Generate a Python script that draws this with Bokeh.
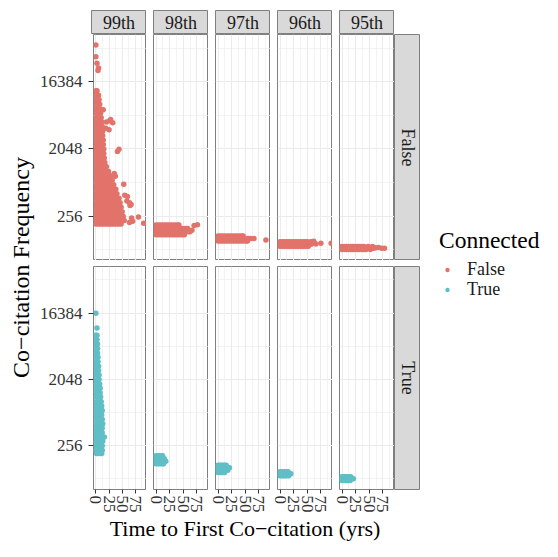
import math
from bokeh.plotting import figure
from bokeh.layouts import row, column
from bokeh.models import (Range1d, FixedTicker, NumeralTickFormatter, Legend,
                          LegendItem, Spacer)
from bokeh.core.properties import value
from bokeh.embed import file_html
from bokeh.resources import INLINE

# ---------------- data ----------------
percentiles = ["99th", "98th", "97th", "96th", "95th"]
connected_levels = ["False", "True"]
y_ticks = [256, 2048, 16384]
y_minor_exp = [6.5, 9.5, 12.5, 15.5]
x_ticks = [0, 25, 50, 75]
x_minor = [12.5, 37.5, 62.5, 87.5]

# rows of points: (co-citation frequency, [years to first co-citation])
f99_rows = [
    (12400, [0, 2]), (10800, [0, 3, 5]), (9410, [0, 3, 6]), (8190, [0, 3, 7]),
    (7130, [0, 4, 8]), (6210, [0, 3, 6, 9]), (5400, [0, 3, 7, 10]),
    (4700, [0, 4, 8, 11]), (4100, [0, 4, 8, 12]), (3570, [0, 4, 8, 13]),
    (3100, [0, 4, 9, 13]), (2700, [0, 4, 9, 14]), (2350, [0, 5, 10, 14]),
    (2050, [0, 5, 10, 15]), (1780, [0, 5, 10, 15]), (1550, [0, 4, 8, 12, 16]),
    (1350, [0, 4, 8, 12, 17]), (1180, [0, 4, 8, 12, 16, 20]),
    (1020, [0, 4, 8, 12, 16, 20, 24]), (891, [0, 4, 8, 12, 16, 20, 24, 28]),
    (776, [0, 4, 8, 12, 16, 20, 24, 28, 31]),
    (676, [0, 4, 8, 12, 16, 20, 24, 28, 32, 34]),
    (588, [0, 4, 8, 12, 16, 20, 24, 28, 32, 36, 38]),
    (512, [0, 4, 8, 12, 16, 20, 24, 28, 32, 36, 40]),
    (446, [0, 4, 8, 12, 16, 20, 24, 28, 32, 36, 40, 44]),
    (388, [0, 4, 8, 12, 16, 20, 24, 28, 32, 36, 40, 44, 46]),
    (338, [0, 4, 8, 12, 16, 20, 24, 28, 32, 36, 40, 44, 48]),
    (294, [0, 4, 8, 12, 16, 20, 24, 28, 32, 36, 40, 44, 48, 50]),
    (256, [0, 4, 8, 12, 16, 20, 24, 28, 32, 36, 40, 44, 48, 52]),
    (223, [0, 4, 8, 12, 16, 20, 24, 28, 32, 36, 40, 44, 48, 52, 54]),
    (201, [0, 4, 8, 12, 16, 20, 24, 28, 32, 36, 40, 44, 48]),
]
f99_extra_x = [0, 0, 2, 5, 4, 14, 20, 26, 32, 19, 25, 28, 41, 44, 35, 37,
               53, 55, 60, 64, 67, 59, 65, 68, 70, 81, 91, 64]
f99_extra_y = [51000, 35600, 29000, 25000, 23200, 6900, 4700, 4900, 4600, 3900,
               3700, 5100, 1900, 2030, 955, 880, 685, 490, 470, 388, 367, 410,
               357, 241, 218, 250, 205, 210]

f98_rows = [
    (194, [0, 4, 8, 12, 16, 20, 24, 28, 32, 36, 40, 42]),
    (175, [0, 4, 8, 12, 16, 20, 24, 28, 32, 36, 40, 44, 48, 52, 56, 58]),
    (158, [0, 4, 8, 12, 16, 20, 24, 28, 32, 36, 40, 44, 48, 52, 56, 60, 62]),
    (144, [0, 4, 8, 12, 16, 20, 24, 28, 32, 36, 40, 44, 48, 52]),
]
f98_extra_x = [70, 76, 66]
f98_extra_y = [192, 196, 165]

f97_rows = [
    (139, [0, 4, 8, 12, 16, 20, 24, 28, 32, 36, 40, 44, 46]),
    (128, [0, 4, 8, 12, 16, 20, 24, 28, 32, 36, 40, 44, 48, 52, 56, 60]),
    (119, [0, 4, 8, 12, 16, 20, 24, 28, 32, 36, 40, 44, 48, 52, 54]),
]
f97_extra_x = [66, 88]
f97_extra_y = [128, 122]

f96_rows = [
    (116, [0, 4, 8, 12, 16, 20, 24, 28, 32, 36, 40, 44, 48, 50]),
    (108, [0, 4, 8, 12, 16, 20, 24, 28, 32, 36, 40, 44, 48, 52, 56, 58]),
    (101, [0, 4, 8, 12, 16, 20, 24, 28, 32, 36, 40, 44, 48, 52]),
]
f96_extra_x = [56, 60, 62, 66, 75, 94]
f96_extra_y = [116, 116, 118, 108, 111, 111]

f95_rows = [
    (100, [0, 4, 8, 12, 16, 20, 24, 28, 32, 36, 40]),
    (95, [0, 4, 8, 12, 16, 20, 24, 28, 32, 36, 40, 44, 46]),
    (91, [0, 4, 8, 12, 16, 20, 24, 28, 32, 36, 40, 44]),
]
f95_extra_x = [48, 56, 54, 58, 62, 67, 73, 78, 52]
f95_extra_y = [100, 100, 95, 95, 96, 97, 95, 95, 91]

t99_rows = [
    (8192, [0, 2]), (7130, [0, 2]), (6210, [0, 3]), (5400, [0, 3]),
    (4700, [0, 3]), (4100, [0, 4]), (3570, [0, 4]), (3100, [0, 2, 5]),
    (2700, [0, 3, 5]), (2350, [0, 3, 6]), (2050, [0, 3, 6]), (1780, [0, 4, 7]),
    (1550, [0, 4, 8]), (1350, [0, 4, 8]), (1180, [0, 4, 9]),
    (1020, [0, 4, 8, 10]), (891, [0, 4, 8, 11]), (776, [0, 4, 8, 12]),
    (676, [0, 4, 8, 11]), (588, [0, 4, 8, 12]), (512, [0, 4, 8, 13]),
    (446, [0, 4, 8, 12]), (388, [0, 4, 8, 12]), (338, [0, 4, 8, 12, 16]),
    (294, [0, 4, 8, 13]), (256, [0, 4, 8, 12]), (223, [0, 4, 8, 12]),
    (201, [1, 4, 8, 11]),
]
t99_extra_x = [0, 2]
t99_extra_y = [16384, 10300]

t98_rows = [
    (187, [0, 3, 6, 9, 12]), (171, [0, 3, 6, 9, 12, 15]),
    (158, [0, 3, 6, 9, 12, 15, 18]), (146, [0, 3, 6, 9, 12, 14]),
]
t97_rows = [
    (139, [0, 3, 6, 9, 12, 15]), (128, [0, 3, 6, 9, 12, 15, 18, 21]),
    (119, [0, 3, 6, 9, 12, 15, 18]), (111, [0, 3, 6, 9, 12]),
]
t96_rows = [
    (113, [0, 3, 6, 9, 12, 15]), (106, [0, 3, 6, 9, 12, 15, 18, 20]),
    (100, [0, 3, 6, 9, 12, 16]),
]
t95_rows = [
    (97, [0, 3, 6, 9, 12, 16]), (91, [0, 3, 6, 9, 12, 15, 18, 21]),
    (86, [0, 3, 6, 9, 12, 15]),
]

panel_data = {
    ("False", "99th"): (f99_rows, f99_extra_x, f99_extra_y),
    ("False", "98th"): (f98_rows, f98_extra_x, f98_extra_y),
    ("False", "97th"): (f97_rows, f97_extra_x, f97_extra_y),
    ("False", "96th"): (f96_rows, f96_extra_x, f96_extra_y),
    ("False", "95th"): (f95_rows, f95_extra_x, f95_extra_y),
    ("True", "99th"): (t99_rows, t99_extra_x, t99_extra_y),
    ("True", "98th"): (t98_rows, [], []),
    ("True", "97th"): (t97_rows, [], []),
    ("True", "96th"): (t96_rows, [], []),
    ("True", "95th"): (t95_rows, [], []),
}

# ---------------- style / layout ----------------
FONT = "Liberation Serif"
COLORS = {"False": "#E2736B", "True": "#5FBEC6"}
BORDER = "#7F7F7F"
STRIP_FILL = "#D9D9D9"
GRID = "#EBEBEB"
YTITLE_W = 36
PANEL_W = 55
LEFT_BORDERS = [55, 7, 7, 7, 7]
TOP_PAD = 10
STRIP_H = 24
PANEL_H = 226
ROW_GAP = 6
AXIS_H = 23
XT_H = 26
STRIP_W = 26
LEGEND_W = 122
X_RANGE = (-4.6, 96.4)
Y_RANGE = (2 ** 6.02, 2 ** 16.11)


def base_fig(w, h, left=0, top=0, bottom=0, **kw):
    return figure(width=w, height=h, toolbar_location=None, tools="",
                  output_backend="svg", min_border_left=left, min_border_right=0,
                  min_border_top=top, min_border_bottom=bottom, **kw)


def style_axis(ax):
    ax.axis_line_color = None
    ax.major_tick_in = 0
    ax.major_tick_line_color = "#333333"
    ax.minor_tick_line_color = None
    ax.major_label_text_font = FONT
    ax.major_label_text_font_size = "17px"
    ax.major_label_text_color = "#333333"


def panel_points(conn, pct):
    rows, ex, ey = panel_data[(conn, pct)]
    xs, ys = [], []
    for freq, years in rows:
        for yr in years:
            xs.append(yr)
            ys.append(freq)
    return xs + list(ex), ys + list(ey)


def make_panel(ci, ri, conn, pct):
    xs, ys = panel_points(conn, pct)
    left = LEFT_BORDERS[ci]
    top = ROW_GAP if ri == 1 else 0
    bottom = AXIS_H if ri == 1 else 0
    p = base_fig(left + PANEL_W, top + PANEL_H + bottom, left, top, bottom,
                 x_range=Range1d(*X_RANGE), y_range=Range1d(*Y_RANGE),
                 y_axis_type="log",
                 x_axis_location="below" if ri == 1 else None,
                 y_axis_location="left" if ci == 0 else None)
    p.background_fill_color = "white"
    p.border_fill_color = "white"
    p.outline_line_color = BORDER
    p.outline_line_width = 1
    p.xgrid.ticker = FixedTicker(ticks=x_ticks, minor_ticks=x_minor)
    p.ygrid.ticker = FixedTicker(ticks=y_ticks,
                                 minor_ticks=[2 ** e for e in y_minor_exp])
    for g in p.grid:
        g.grid_line_color = GRID
        g.grid_line_width = 1.1
        g.minor_grid_line_color = GRID
        g.minor_grid_line_width = 0.6
    if ri == 1:
        ax = p.xaxis[0]
        ax.ticker = FixedTicker(ticks=x_ticks)
        ax.major_label_orientation = -math.pi / 2
        style_axis(ax)
        ax.major_tick_out = 4
        ax.major_label_standoff = 2
    if ci == 0:
        ay = p.yaxis[0]
        ay.ticker = FixedTicker(ticks=y_ticks)
        ay.formatter = NumeralTickFormatter(format="0")
        style_axis(ay)
        ay.major_tick_out = 5
        ay.major_label_standoff = 6
    p.scatter(x=xs, y=ys, size=5.5, fill_color=COLORS[conn], line_color=None)
    return p


def make_strip(label, w, h, left=0, top=0, bottom=0, vertical=False):
    p = base_fig(w, h, left, top, bottom,
                 x_range=Range1d(0, 1), y_range=Range1d(0, 1),
                 x_axis_location=None, y_axis_location=None)
    p.grid.visible = False
    p.background_fill_color = STRIP_FILL
    p.border_fill_color = "white"
    p.outline_line_color = BORDER
    p.text(x=[0.5], y=[0.5], text=[label], text_font=value(FONT),
           text_font_size="18px", text_align="center", text_baseline="middle",
           text_color="#1A1A1A", angle=-math.pi / 2 if vertical else 0)
    return p


def blank(w, h, xr, yr):
    p = base_fig(w, h, x_range=Range1d(*xr), y_range=Range1d(*yr),
                 x_axis_location=None, y_axis_location=None)
    p.grid.visible = False
    p.outline_line_color = None
    p.background_fill_color = "white"
    p.border_fill_color = "white"
    return p


# top strips
top_strips = []
for ci, pct in enumerate(percentiles):
    lb = 0 if ci == 0 else LEFT_BORDERS[ci]
    top_strips.append(make_strip(pct, lb + PANEL_W, STRIP_H, left=lb))
lead_w = YTITLE_W + LEFT_BORDERS[0]
top_row = row(Spacer(width=lead_w, height=STRIP_H), *top_strips)

# panel rows
panel_rows = []
for ri, conn in enumerate(connected_levels):
    figs = [make_panel(ci, ri, conn, pct) for ci, pct in enumerate(percentiles)]
    top = ROW_GAP if ri == 1 else 0
    bottom = AXIS_H if ri == 1 else 0
    figs.append(make_strip(conn, STRIP_W, top + PANEL_H + bottom, 0, top, bottom,
                           vertical=True))
    panel_rows.append(row(*figs))

mid_h = PANEL_H + ROW_GAP + PANEL_H + AXIS_H
yt = blank(YTITLE_W, mid_h, (0, YTITLE_W), (0, mid_h))
yt.text(x=[20.6], y=[mid_h - 233], text=["Co\u2212citation Frequency"],
        text_font=value(FONT), text_font_size="24px", text_align="center",
        text_baseline="middle", text_color="black", angle=math.pi / 2)
mid_row = row(yt, column(*panel_rows))

xt_w = sum(LEFT_BORDERS[1:]) + 5 * PANEL_W
xt = blank(xt_w, XT_H, (0, xt_w), (0, XT_H))
xt.text(x=[153.5], y=[XT_H / 2], text=["Time to First Co\u2212citation (yrs)"],
        text_font=value(FONT), text_font_size="22px", text_align="center",
        text_baseline="middle", text_color="black")
bottom_row = row(Spacer(width=lead_w, height=XT_H), xt)

left_part = column(Spacer(width=10, height=TOP_PAD), top_row, mid_row, bottom_row)
total_h = TOP_PAD + STRIP_H + mid_h + XT_H

# legend (renderers carry the real points, kept outside this figure's view)
all_x = {c: [] for c in connected_levels}
all_y = {c: [] for c in connected_levels}
for conn in connected_levels:
    for pct in percentiles:
        xs, ys = panel_points(conn, pct)
        all_x[conn] += xs
        all_y[conn] += ys

lg = blank(LEGEND_W, total_h, (0, 1), (0, 1))
r_false = lg.scatter(x=all_x["False"], y=all_y["False"], size=5,
                     fill_color=COLORS["False"], line_color=None)
r_true = lg.scatter(x=all_x["True"], y=all_y["True"], size=5,
                    fill_color=COLORS["True"], line_color=None)

common = dict(label_text_font=FONT, label_text_font_size="18px",
              label_text_color="#1A1A1A", glyph_width=16, glyph_height=11,
              label_standoff=12, spacing=0, padding=0, margin=0,
              border_line_color=None, background_fill_alpha=0)
legend_a = Legend(items=[LegendItem(label="False", renderers=[r_false])],
                  title="Connected", location=(19, total_h - 280),
                  title_text_font=FONT, title_text_font_size="23.5px",
                  title_text_font_style="normal", title_text_color="black",
                  title_standoff=5, **common)
legend_b = Legend(items=[LegendItem(label="True", renderers=[r_true])],
                  location=(19, total_h - 300), **common)
lg.add_layout(legend_a)
lg.add_layout(legend_b)

layout = row(left_part, lg)

with open("out.html", "w") as fh:
    fh.write(file_html(layout, INLINE))
